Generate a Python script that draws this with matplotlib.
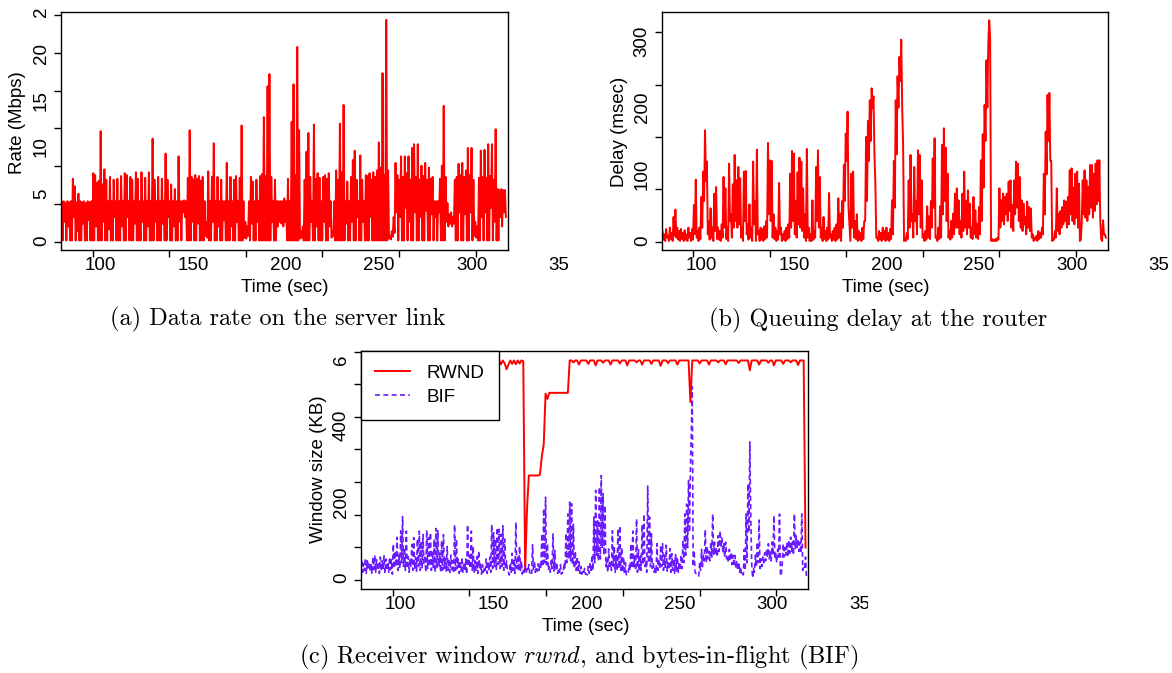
import numpy as np
import matplotlib.pyplot as plt
from matplotlib.transforms import Bbox, TransformedBbox

W, H = 1172, 673

# every trace has one sample on each whole second and one half a second later
sec = np.arange(79, 319)


def series(text):
    return np.array(text.split(), dtype=float)


# data rate on the server link (Mbps)
rate_sec = series("""
4.1 4.2 4.0 4.2 4.1 4.2 6.6 5.8 4.1 5.0
4.2 4.1 4.2 4.0 4.2 4.1 4.2 7.2 7.0 6.2
6.4 11.7 6.0 7.6 6.5 4.2 6.8 4.2 6.5 4.2
6.6 4.2 6.9 4.2 7.2 7.0 4.2 6.8 6.5 4.2
7.3 6.6 4.2 7.3 4.2 6.7 4.2 7.3 4.2 10.9
6.5 4.2 6.8 4.2 6.6 4.2 9.3 6.5 4.2 6.0
4.2 5.5 4.2 9.0 4.2 4.2 4.3 4.2 6.7 11.8
6.8 6.5 7.0 6.6 6.9 6.4 6.8 4.2 2.0 7.4
4.2 6.8 10.4 4.2 6.8 4.2 6.5 4.2 4.2 8.3
4.2 6.8 4.2 6.5 6.9 4.2 6.7 12.3 4.2 2.0
1.5 4.2 6.8 6.3 4.2 6.5 4.2 6.9 7.1 13.2
6.9 16.5 17.8 6.8 4.2 6.5 4.2 4.2 4.2 4.2
4.5 4.2 6.6 4.2 12.7 16.7 7.0 20.7 11.8 1.0
1.5 6.5 9.5 11.5 6.8 4.2 12.4 6.6 7.2 6.7
4.2 6.8 7.0 6.6 7.2 4.2 1.0 4.2 7.5 6.5
12.5 7.3 14.5 4.2 6.3 4.2 6.8 8.6 9.6 6.5
4.2 9.1 6.5 4.2 7.0 6.9 7.2 6.5 7.3 6.8
7.5 10.5 7.8 17.9 7.0 23.6 7.5 0.5 1.0 2.5
8.3 7.0 6.5 9.0 6.8 9.0 7.2 9.0 6.5 9.9
10.3 6.8 10.3 6.5 8.0 6.9 8.3 6.5 7.8 6.6
6.8 4.2 4.2 4.2 6.6 8.0 14.4 6.8 4.0 2.8
3.0 2.5 6.5 6.8 8.2 7.0 8.3 6.8 7.5 9.9
7.0 9.9 6.5 2.0 1.5 6.7 9.6 6.8 9.7 6.7
10.3 6.9 10.3 6.5 11.9 5.5 5.4 5.5 5.4 5.4
""")
rate_half = series("""
0 2.0 0 1.5 0 0 2.5 0 1.0 0
0 1.8 0 0 2.2 0 0 0 1.5 0
0 0 2.0 0 0 1.2 0 0 2.5 0
0 0 1.5 0 0 2.5 0 0 0 1.8
0 0 0 2.0 0 0 1.5 0 0 0
2.0 0 0 0 1.8 0 0 2.5 0 0
1.5 0 0 2.0 0 3.0 2.5 0 0 0
2.0 0 0 1.8 0 0 0 0.5 0.3 0
0 2.0 0 0 1.5 0 0 2.2 0 0
0 1.5 0 0 2.0 0 0 0 0.3 0.2
0.5 0 1.8 0 0 2.0 0 0 0 0
0 0 0 2.0 0 0 1.5 2.0 1.8 1.5
2.0 0 0 0 0 0 0 0 0.2 0.3
0 0 0 0 2.0 0 0 1.5 0 0
0 2.0 0 0 1.5 0.3 0.5 0 0 0
0 0 0 1.8 0 0 2.0 0 0 2.5
0 0 2.0 0 0 0 2.5 0 0 0
0 0 0 0 0 0 0.2 0.1 0.4 0.8
3.0 0 2.5 0 0 3.5 0 2.0 0 0
3.0 0 0 2.5 0 0 3.2 0 0 2.8
0 2.5 0 3.0 0 0 0 2.0 1.5 1.8
1.5 1.8 0 0 3.0 0 0 2.8 0 0
3.0 0 0.5 0.3 0 0 2.5 0 3.0 0
0 3.5 0 2.0 0 0 2.5 1.5 3.0 2.5
""")

# queuing delay at the router (msec)
delay_sec = series("""
15 10 18 8 20 12 36 47 20 15
18 12 16 10 20 12 18 54 92 15
20 66 104 166 119 30 49 20 71 81
20 15 25 96 79 20 116 40 85 129
91 111 94 20 104 105 25 55 20 119
60 137 15 20 18 22 30 147 121 120
40 20 15 87 20 10 15 20 25 101
135 131 60 103 125 119 79 40 138 20
10 61 15 111 136 96 20 36 15 20
72 10 15 20 25 64 41 60 114 161
194 25 101 104 30 40 15 12 20 30
156 180 211 229 217 88 5 15 12 20
15 20 12 18 61 120 211 247 276 302
144 5 12 91 129 40 111 60 136 129
91 10 15 52 37 60 124 154 5 20
52 144 169 140 101 15 30 41 71 79
61 30 71 104 60 76 56 20 66 46
25 51 121 160 204 271 296 304 3 2
3 5 79 61 71 66 71 89 91 54
91 119 116 96 61 56 36 59 51 49
10 5 8 15 12 20 101 164 219 222
120 3 15 79 41 45 51 61 59 66
106 109 80 101 104 86 2 91 106 91
81 114 114 101 116 121 121 2 31 10
""")
delay_half = series("""
2 0 5 0 3 0 8 5 2 0
3 0 2 0 5 0 2 10 5 0
3 20 60 90 10 2 5 0 15 3
2 0 5 20 3 0 30 5 20 30
20 25 5 0 30 10 2 5 0 25
0 10 0 2 0 3 5 40 30 5
3 0 2 10 0 2 0 3 5 20
30 10 5 25 20 15 5 0 5 0
0 2 5 30 20 5 0 3 0 2
5 0 2 0 3 5 0 20 60 120
50 0 20 5 3 0 2 0 3 30
60 120 150 200 130 5 0 2 0 3
0 2 0 3 10 50 130 200 240 200
0 0 3 20 30 5 30 10 40 20
5 0 2 5 3 20 50 5 0 3
5 40 60 30 5 2 5 10 20 20
10 5 15 20 10 20 5 3 10 5
3 10 30 80 150 200 331 0 0 0
0 2 20 30 25 40 30 45 20 15
40 50 30 20 15 25 10 20 15 5
0 2 0 3 5 10 40 100 150 120
0 2 5 15 10 20 25 30 20 25
40 30 25 35 20 0 30 40 35 30
40 50 35 45 55 60 30 0 10 5
""")

# receiver window (KB), one value per second
rwnd_kb = series("""
571 562 571 560 571 563 571 561 570 562
571 560 571 562 571 561 571 563 571 560
571 562 571 561 571 560 571 562 571 561
571 563 571 560 571 562 571 561 571 562
571 560 571 562 571 561 571 563 571 560
571 562 571 561 571 560 571 562 571 561
571 563 571 560 571 562 571 561 571 562
571 560 571 562 571 561 571 563 548 560
571 562 571 561 571 563 571 569 19 180
269 269 269 269 269 269 272 320 350 484
470 486 486 486 486 486 486 486 486 486
486 486 571 571 566 571 571 560 571 571
571 571 562 571 571 571 558 571 571 571
565 571 571 571 560 571 571 571 571 563
571 571 571 558 571 571 571 571 566 571
571 560 571 571 571 571 562 571 571 571
571 557 571 571 571 564 571 571 571 571
560 571 571 571 571 571 571 462 571 571
571 571 563 571 571 571 571 560 571 571
571 571 566 571 571 571 561 571 571 571
571 571 571 564 571 571 571 571 571 545
571 571 571 571 560 571 571 571 571 565
571 571 558 571 571 571 571 562 571 571
571 566 571 571 571 559 571 571 571 80
""")

# bytes in flight (KB)
bif_sec = series("""
45 38 52 45 40 35 55 60 48 42
55 45 58 50 42 55 48 89 70 107
60 124 161 80 123 56 50 88 106 55
102 123 97 114 60 126 106 119 70 102
130 126 65 97 114 55 83 50 60 45
140 102 50 45 55 40 50 140 60 123
83 45 56 71 40 35 28 50 42 55
140 119 102 132 128 115 137 102 45 15
40 65 50 146 60 83 45 24 30 24
35 15 87 45 30 37 40 116 182 212
91 30 45 116 72 40 24 35 15 40
118 168 199 195 141 70 56 43 30 19
25 10 30 40 60 160 230 150 239 269
221 190 50 76 40 124 83 60 129 137
80 55 40 12 35 90 123 60 155 75
60 140 168 45 241 160 116 40 30 90
50 86 90 60 86 45 77 64 50 64
55 42 60 99 168 194 256 282 502 72
12 8 40 75 60 127 83 70 94 168
94 80 111 124 107 90 94 59 75 68
60 59 45 42 30 15 75 168 247 357
40 25 60 94 152 50 55 66 75 90
70 94 164 64 75 168 12 90 80 94
100 107 95 168 111 100 94 168 30 55
""")
bif_half = series("""
15 20 12 25 18 10 22 15 20 12
18 25 12 20 15 22 10 25 30 20
25 40 30 20 25 15 30 20 25 18
30 20 25 35 15 25 30 20 28 15
25 30 15 20 25 18 20 15 22 12
20 25 12 18 15 20 10 30 25 20
15 20 12 25 10 15 20 12 18 15
25 30 20 35 25 30 20 25 15 8
15 20 12 25 18 20 10 15 12 18
10 12 20 15 18 20 25 30 40 35
20 15 25 18 20 12 15 10 12 25
40 50 45 35 25 20 15 12 10 12
10 8 12 15 20 40 60 45 50 80
60 30 15 25 20 30 15 20 25 20
15 10 8 12 20 25 30 20 15 18
20 35 30 15 40 30 25 15 12 20
25 30 20 25 18 22 15 20 12 18
15 20 25 40 60 80 120 380 30 15
8 5 20 30 45 40 50 45 55 60
60 55 70 80 65 55 50 40 45 35
30 25 20 15 10 8 20 40 120 168
0 15 30 40 25 30 40 45 55 50
45 60 50 40 55 5 40 55 60 55
65 70 60 75 80 70 65 20 25 0
""")

time_labels = [100, 150, 200, 250, 300, 350]
rate_labels = [0, 5, 10, 15, 20, 25]
delay_labels = [0, 100, 200, 300]
window_labels = [0, 200, 400, 600]

plt.rcParams['font.family'] = ['Liberation Sans', 'DejaVu Sans']
plt.rcParams['mathtext.fontset'] = 'cm'
plt.rcParams['axes.linewidth'] = 1.0

fig = plt.figure(figsize=(W / 100, H / 100), dpi=100)
FS = 13.5


def fx(x):
    return x / W


def fy(y):
    return 1 - y / H


def add_panel(left, top, right, bottom, ylim, yticks):
    ax = fig.add_axes([fx(left), fy(bottom), (right - left) / W, (bottom - top) / H])
    ax.set_xlim(78.6, 319.5)
    ax.set_ylim(*ylim)
    # tick marks do not line up with the numbers in this figure
    ax.set_xticks([95.7, 137.0, 178.3, 219.6, 261.0, 302.2])
    ax.set_yticks(yticks)
    ax.tick_params(direction='out', length=5, width=1.0,
                   labelbottom=False, labelleft=False)
    return ax


def zigzag(a, b):
    t = np.column_stack([sec, sec + 0.5]).ravel()
    return t, np.column_stack([a, b]).ravel()


def tick_text(ax, xlabels, ylabels, clip):
    # numbers are cut off at the edge of each sub-figure
    box = TransformedBbox(Bbox.from_extents(fx(clip[0]), fy(clip[3]),
                                            fx(clip[2]), fy(clip[1])),
                          fig.transFigure)
    items = []
    for v in xlabels:
        items.append(ax.annotate(str(v), (v, 0), xycoords=ax.get_xaxis_transform(),
                                 xytext=(0, -11.2), textcoords='offset points',
                                 ha='center', va='center', fontsize=FS,
                                 annotation_clip=False))
    for v in ylabels:
        items.append(ax.annotate(str(v), (0, v), xycoords=ax.get_yaxis_transform(),
                                 xytext=(-14, 0), textcoords='offset points',
                                 rotation=90, ha='center', va='center', fontsize=FS,
                                 annotation_clip=False))
    for t in items:
        t.set_clip_box(box)
        t.set_clip_on(True)


# (a) rate
ax1 = add_panel(61, 11.7, 507.7, 250, (-1.016, 24.47),
                [-0.13, 3.91, 7.95, 11.99, 16.03, 20.07, 24.11])
ax1.plot(*zigzag(rate_sec, rate_half), color='red', lw=1.4)
tick_text(ax1, time_labels, rate_labels, (0, 9, 568, 340))

# (b) delay
ax2 = add_panel(661.7, 11.7, 1107.7, 250, (-13.5, 343.8),
                [-1, 77.5, 156, 234.5, 313])
ax2.plot(*zigzag(delay_sec, delay_half), color='red', lw=1.4)
tick_text(ax2, time_labels, delay_labels, (580, 0, 1168, 340))

# (c) rwnd and bytes in flight
ax3 = add_panel(361, 350.7, 808.3, 589.3, (-29.7, 596.6),
                [-5, 80.6, 166.2, 251.8, 337.4, 423, 508.6, 594.2])
ax3.plot(sec, rwnd_kb, color='red', lw=1.4, label='RWND')
ax3.plot(*zigzag(bif_sec, bif_half), color='#6a1aff', lw=1.2,
         ls=(0, (3, 2)), label='BIF')
tick_text(ax3, time_labels, window_labels, (290, 356, 868, 673))
ax3.legend(loc='upper left', bbox_to_anchor=(0, 1), borderaxespad=0,
           fancybox=False, framealpha=1, edgecolor='black', fontsize=FS,
           handlelength=1.85, handletextpad=0.9, labelspacing=0.35,
           borderpad=0.75)

# axis titles
for x, y, s in [(285, 287.3, 'Time (sec)'), (885.3, 287.3, 'Time (sec)'),
                (585.6, 626.7, 'Time (sec)')]:
    fig.text(fx(x), fy(y), s, ha='center', va='center', fontsize=FS)
for x, y, s in [(17.5, 122.5, 'Rate (Mbps)'), (620, 131.7, 'Delay (msec)'),
                (318.3, 469.5, 'Window size (KB)')]:
    fig.text(fx(x), fy(y), s, ha='center', va='center', fontsize=FS, rotation=90)

# captions
cap = dict(ha='center', va='center', family='cmr10', fontsize=17.5)
fig.text(fx(278), fy(319), '(a) Data rate on the server link', **cap)
fig.text(fx(878.5), fy(320), '(b) Queuing delay at the router', **cap)
fig.text(fx(579), fy(657), '(c) Receiver window $rwnd$, and bytes-in-flight (BIF)', **cap)

fig.savefig('out.png', dpi=100)
